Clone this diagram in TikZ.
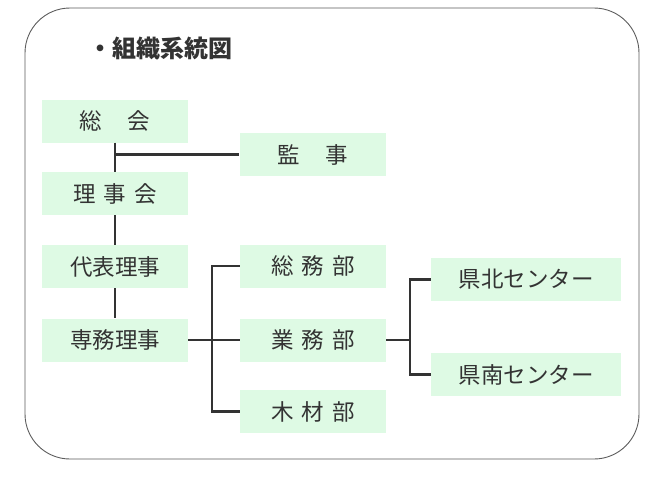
\documentclass[tikz,border=0pt]{standalone}
\usepackage{fontspec}
\setmainfont{Noto Sans CJK JP}
\usepackage{tikz}
\usetikzlibrary{positioning, calc}
\definecolor{boxgreen}{RGB}{222,250,228}
\definecolor{inkgray}{RGB}{51,51,51}
\begin{document}
\begin{tikzpicture}[x=1pt, y=-1pt,
		orgbox/.style={fill=boxgreen, inner sep=0pt, minimum height=43pt, minimum width=146pt, text=inkgray, font=\fontsize{22.5}{26}\selectfont},
		widebox/.style={orgbox, minimum width=190pt},
		link/.style={draw=inkgray, line width=2.2pt},
		]
		\useasboundingbox (0,0) rectangle (666,480);
		\draw[draw=inkgray!80, line width=0.9pt, rounded corners=45pt] (25,8) rectangle (639,459);
		
		\node[text=inkgray, font=\fontsize{24}{28}\selectfont\bfseries] (title) at (160, 48) {・組織系統図};
		
		\node[orgbox] (sokai) at (115, 121) {総\hspace{1.15em}会};
		\node[orgbox] (kanji) at (312.5, 154.5) {監\hspace{1.15em}事};
		\node[orgbox] (rijikai) at (115, 193.5) {理\hspace{0.35em}事\hspace{0.35em}会};
		\node[orgbox] (daihyo) at (115, 266.5) {代表理事};
		\node[orgbox] (senmu) at (115, 340) {専務理事};
		
		\node[orgbox] (somu) at (313, 266) {総\hspace{0.35em}務\hspace{0.35em}部};
		\node[orgbox] (gyomu) at (313, 340) {業\hspace{0.35em}務\hspace{0.35em}部};
		\node[orgbox] (mokuzai) at (313, 411.5) {木\hspace{0.35em}材\hspace{0.35em}部};
		
		\node[widebox] (kenpoku) at (526, 279.5) {県北センター};
		\node[widebox] (kennan) at (526, 374.5) {県南センター};
		
		\coordinate (busA) at (212, 0);
		\coordinate (busB) at (410, 0);
		
		\draw[link] (sokai.south) -- (rijikai.north);
		\draw[link] (rijikai.south) -- (daihyo.north);
		\draw[link] (daihyo.south) -- (senmu.north);
		\draw[link] (sokai.south |- kanji.west) -- (kanji.west);
		
		\draw[link] (senmu.east) -- (gyomu.west);
		\draw[link] (somu.west) -- (somu.west -| busA) -- (mokuzai.west -| busA) -- (mokuzai.west);
		
		\draw[link] (gyomu.east) -- (gyomu.east -| busB);
		\draw[link] (kenpoku.west) -- (kenpoku.west -| busB) -- (kennan.west -| busB) -- (kennan.west);
		
\end{tikzpicture}
\end{document}
